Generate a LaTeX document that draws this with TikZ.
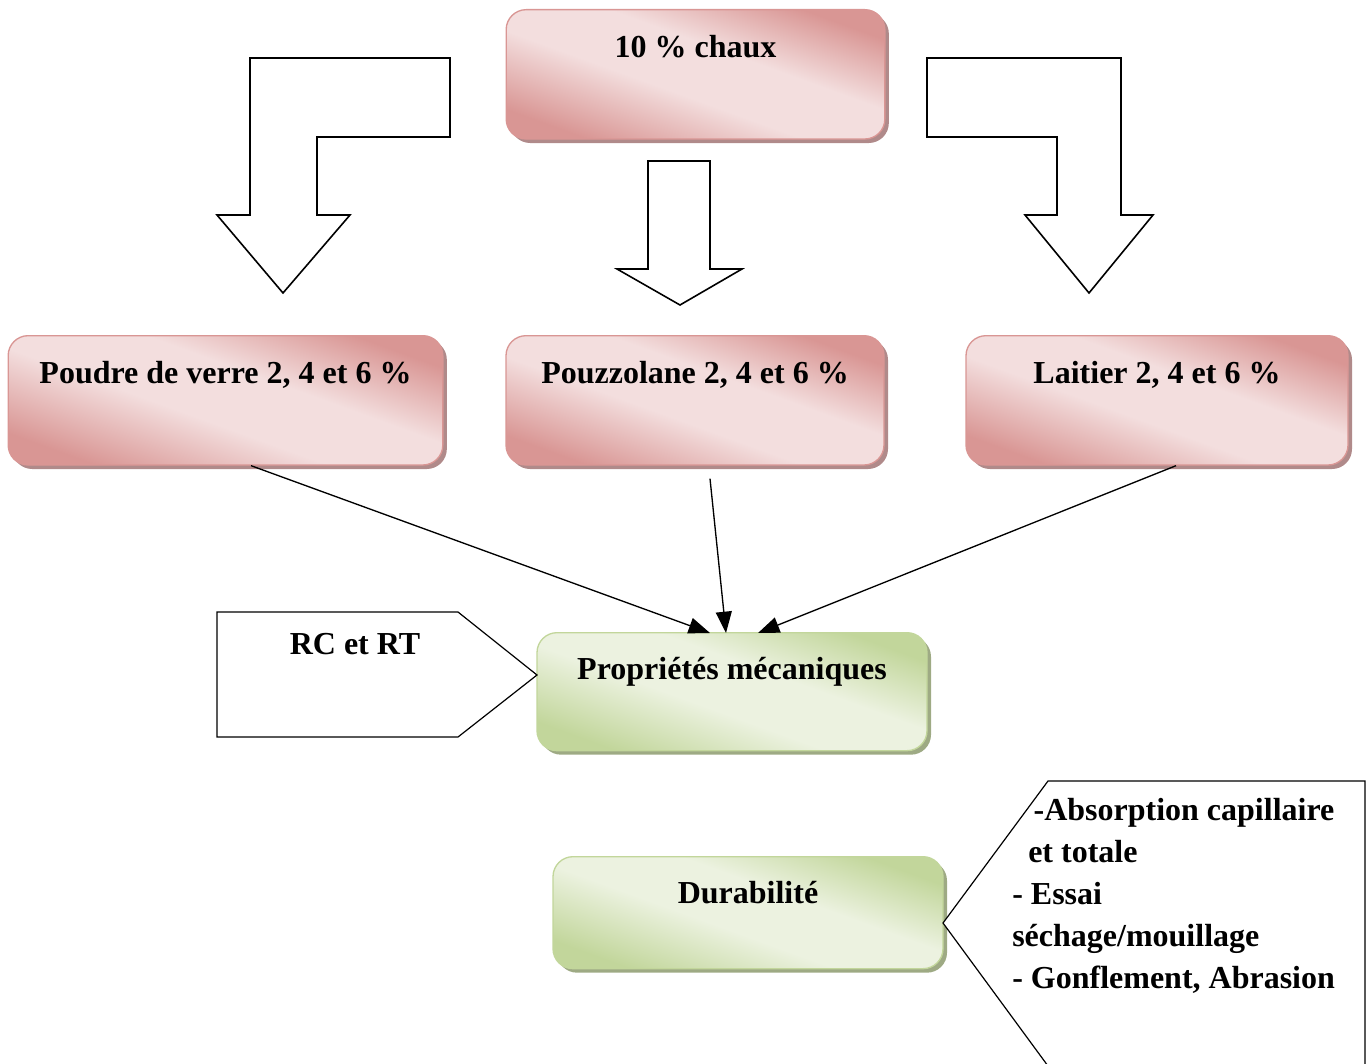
\documentclass[tikz,border=0pt]{standalone}
\usepackage{fontspec}
\setmainfont{Liberation Serif}
\usetikzlibrary{arrows.meta,shadows,calc}

\definecolor{pinkdark}{RGB}{217,150,148}
\definecolor{pinklight}{RGB}{243,222,222}
\definecolor{pinkshadow}{RGB}{176,138,138}
\definecolor{greendark}{RGB}{194,214,155}
\definecolor{greenlight}{RGB}{236,242,224}
\definecolor{greenshadow}{RGB}{158,170,132}

\pgfdeclareverticalshading{pinkshade}{100bp}{color(0bp)=(pinkdark); color(25bp)=(pinkdark); color(44bp)=(pinklight); color(58bp)=(pinklight); color(75bp)=(pinkdark); color(100bp)=(pinkdark)}
\pgfdeclareverticalshading{greenshade}{100bp}{color(0bp)=(greendark); color(25bp)=(greendark); color(44bp)=(greenlight); color(58bp)=(greenlight); color(75bp)=(greendark); color(100bp)=(greendark)}

\tikzset{
  bigfont/.style={font=\fontsize{24}{31.5}\selectfont\bfseries},
  pinkbox/.style={bigfont, anchor=north, inner sep=0pt, rounded corners=15pt,
    draw=pinkdark, line width=1pt, shading=pinkshade, shading angle=-20,
    general shadow={fill=pinkshadow, shadow xshift=3pt, shadow yshift=-3pt},
    text height=36pt, text depth=61pt},
  greenbox/.style={bigfont, anchor=north, inner sep=0pt, rounded corners=15pt,
    draw=greendark, line width=1pt, shading=greenshade, shading angle=-20,
    general shadow={fill=greenshadow, shadow xshift=3pt, shadow yshift=-3pt},
    text height=35pt},
  blockarrow/.style={draw=black, line width=1.2pt, fill=white, line join=miter},
  callout/.style={draw=black, line width=0.9pt, fill=white},
  conn/.style={draw=black, line width=1pt, -{Triangle[length=16pt,width=12pt]}}
}

\begin{document}
\begin{tikzpicture}[x=0.75pt,y=0.75pt,yscale=-1,xscale=1]
	\useasboundingbox (0,0) rectangle (1369,1063);
	% block arrows
	\draw[blockarrow] (250,58) -- (450,58) -- (450,137) -- (317,137) -- (317,215) -- (350,215) -- (283,293) -- (217,215) -- (250,215) -- cycle;
	\draw[blockarrow] (648,161) -- (710,161) -- (710,269) -- (742,269) -- (680,305) -- (617,269) -- (648,269) -- cycle;
	\draw[blockarrow] (927,58) -- (1121,58) -- (1121,215) -- (1153,215) -- (1089,293) -- (1025,215) -- (1057,215) -- (1057,137) -- (927,137) -- cycle;
	% boxes
	\node[pinkbox, minimum width=284pt] (chaux) at (695.5,9) {10 \% chaux};
	\node[pinkbox, minimum width=326pt] (poudre) at (225.5,335) {Poudre de verre 2, 4 et 6 \%};
	\node[pinkbox, minimum width=283.5pt] (pouzz) at (695,335) {Pouzzolane 2, 4 et 6 \%};
	\node[pinkbox, minimum width=286.5pt] (laitier) at (1157,335) {Laitier 2, 4 et 6 \%};
	\node[greenbox, minimum width=292.5pt, text depth=53.5pt] (meca) at (732,632) {Propriétés mécaniques};
	\node[greenbox, minimum width=292.5pt, text depth=49pt] (durab) at (748,856) {Durabilité};
	% callouts
	\draw[callout] (217,612) -- (458,612) -- (537,675) -- (458,737) -- (217,737) -- cycle;
	\node[bigfont, anchor=base, inner sep=0pt] (rcrt) at (355,654) {RC et RT};
	\draw[callout] (1048,781) -- (1365,781) -- (1365,1066) -- (1048,1066) -- (943,923) -- cycle;
	\node[bigfont, anchor=north west, align=left, inner sep=0pt] (essais) at (1012,798)
	  {\hspace*{16pt}-Absorption capillaire\\\hspace*{12pt}et totale\\- Essai\\séchage/mouillage\\- Gonflement, Abrasion};
	% connectors
	\draw[conn] ($(poudre.south)+(25.5,0)$) -- ($(meca.north)+(-22,1)$);
	\draw[conn] ($(pouzz.south)+(15,13)$) -- ($(meca.north)+(-6,1)$);
	\draw[conn] ($(laitier.south)+(19,0)$) -- ($(meca.north)+(26,1)$);
\end{tikzpicture}
\end{document}
